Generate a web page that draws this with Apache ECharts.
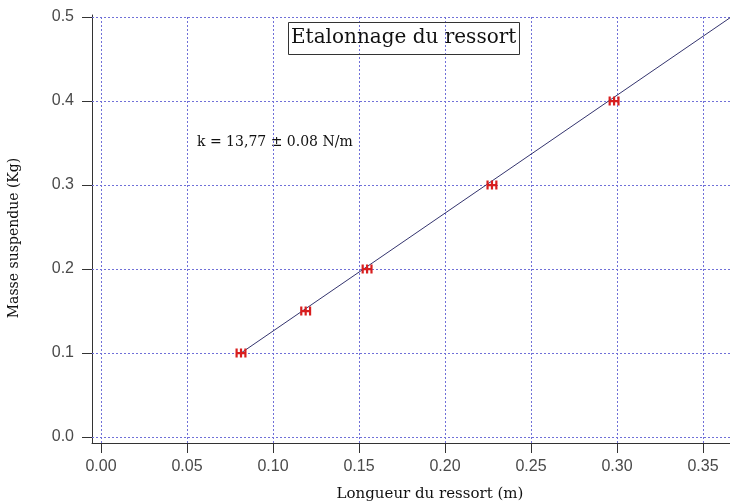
<!DOCTYPE html>
<html>
<head>
<meta charset="utf-8">
<script src="https://cdn.jsdelivr.net/npm/echarts@6/dist/echarts.min.js"></script>
<style>
  html, body { margin: 0; padding: 0; background: #ffffff; }
  #chart { width: 730px; height: 504px; }
</style>
</head>
<body>
<div id="chart"></div>
<script>
// Spring calibration: suspended mass vs. spring length
const longueurs = [0.0814, 0.1190, 0.1547, 0.2273, 0.2983];   // m
const masses    = [0.10, 0.15, 0.20, 0.30, 0.40];              // kg

// Linear fit line endpoints (length, mass)
const ajusteX = [0.0814, 0.3660];
const ajusteY = [0.100, 0.4995];

// Tick values shown on each axis
const ticksX = [0.00, 0.05, 0.10, 0.15, 0.20, 0.25, 0.30, 0.35];
const ticksY = [0.0, 0.1, 0.2, 0.3, 0.4, 0.5];

const titre = 'Etalonnage du ressort';
const annotation = 'k = 13,77 \u00B1 0.08 N/m';
const nomX = 'Longueur du ressort (m)';
const nomY = 'Masse suspendue (Kg)';

const points = longueurs.map((x, i) => [x, masses[i]]);
const ajuste = ajusteX.map((x, i) => [x, ajusteY[i]]);

// Dotted grid drawn at each tick value
const lignesGrille = ticksX.map(v => ({ xAxis: v })).concat(ticksY.map(v => ({ yAxis: v })));

// Error-bar style marker: three vertical bars crossed by a horizontal bar
const marqueur = 'path://M0,0h2v8h-2z M4,0h2v8h-2z M8,0h2v8h-2z M0,3h10v2h-10z';

const serif = '"DejaVu Serif", serif';
const sans = '"Liberation Sans", Arial, sans-serif';

const chart = echarts.init(document.getElementById('chart'), null, { renderer: 'canvas' });

chart.setOption({
  backgroundColor: '#ffffff',
  animation: false,
  title: {
    text: titre,
    left: 288,
    top: 22,
    padding: [5, 3, 6, 3],
    borderColor: '#333333',
    borderWidth: 1,
    textStyle: { fontFamily: serif, fontSize: 20, fontWeight: 'normal', color: '#111111', lineHeight: 22 }
  },
  grid: { left: 92, right: 0, top: 15, bottom: 61, containLabel: false },
  xAxis: {
    type: 'value',
    min: -0.00523,
    max: 0.3657,
    axisLine: { show: true, onZero: false, lineStyle: { color: '#333333', width: 1 } },
    axisTick: { show: true, length: 10, customValues: ticksX, lineStyle: { color: '#333333', width: 1 } },
    axisLabel: {
      customValues: ticksX,
      margin: 16,
      fontFamily: sans, fontSize: 16, color: '#4a4a4a',
      formatter: v => v.toFixed(2)
    },
    splitLine: { show: false }
  },
  yAxis: {
    type: 'value',
    min: -0.00714,
    max: 0.5024,
    axisLine: { show: true, onZero: false, lineStyle: { color: '#333333', width: 1 } },
    axisTick: { show: true, length: 10, customValues: ticksY, lineStyle: { color: '#333333', width: 1 } },
    axisLabel: {
      customValues: ticksY,
      margin: 18,
      fontFamily: sans, fontSize: 16, color: '#4a4a4a',
      formatter: v => v.toFixed(1)
    },
    splitLine: { show: false }
  },
  series: [
    {
      type: 'line',
      data: ajuste,
      showSymbol: false,
      symbol: 'none',
      lineStyle: { color: '#34346e', width: 1 },
      z: 2,
      markLine: {
        silent: true,
        symbol: ['none', 'none'],
        label: { show: false },
        emphasis: { disabled: true },
        lineStyle: { color: '#7070d8', width: 1, type: [2, 2], opacity: 1 },
        z: 1,
        data: lignesGrille
      }
    },
    {
      type: 'scatter',
      data: points,
      symbol: marqueur,
      symbolSize: [11, 9],
      itemStyle: { color: '#d81e1e', opacity: 1 },
      z: 3
    }
  ],
  graphic: [
    {
      type: 'text',
      left: 197,
      top: 135,
      style: { text: annotation, font: '14px ' + serif, fill: '#111111' }
    },
    {
      type: 'text',
      x: 430,
      y: 494,
      style: { text: nomX, font: '15px ' + serif, fill: '#111111', align: 'center', verticalAlign: 'middle' }
    },
    {
      type: 'text',
      x: 14,
      y: 238,
      rotation: Math.PI / 2,
      style: { text: nomY, font: '14px ' + serif, fill: '#111111', align: 'center', verticalAlign: 'middle' }
    }
  ]
});
</script>
</body>
</html>
